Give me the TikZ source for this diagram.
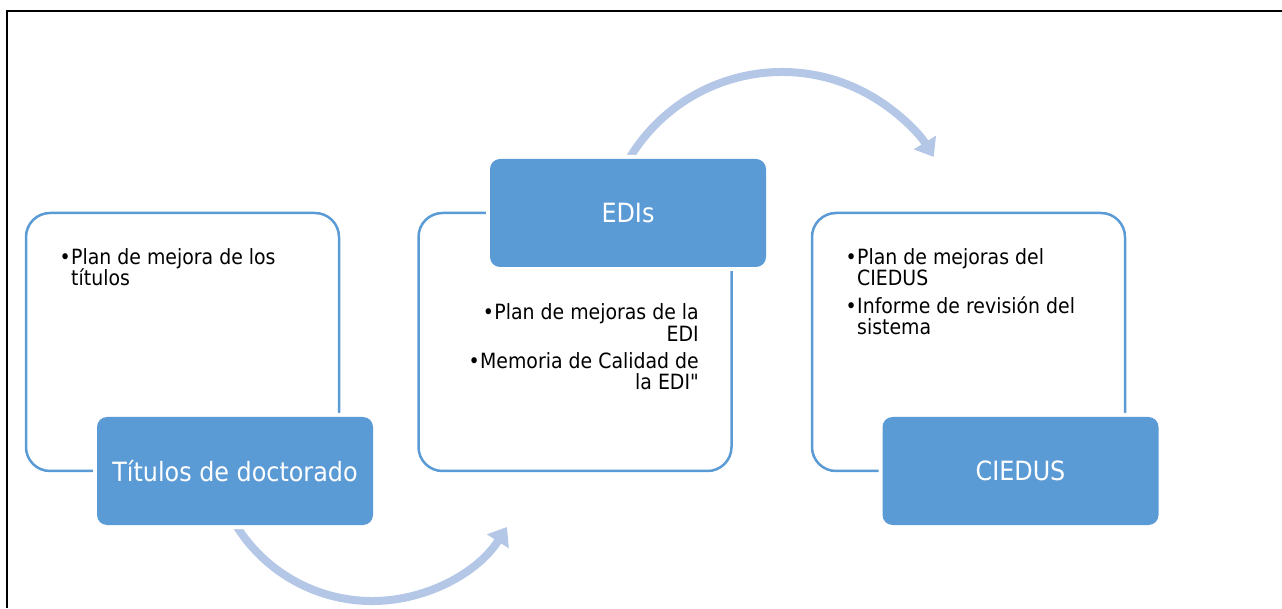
\documentclass[tikz,border=0pt]{standalone}
\usepackage{fontspec}
\setmainfont{DejaVu Sans}[FakeStretch=0.9, Ligatures=TeXOff]
\usetikzlibrary{arrows.meta}
\definecolor{boxblue}{RGB}{91,155,213}
\definecolor{arrowblue}{RGB}{180,199,231}
\newcommand\mybullet{\makebox[12pt][c]{•}}
\newcommand\leftlines[1]{\vtop{\lineskiplimit=-20pt\halign{##\hfil\cr#1\crcr}}}
\newcommand\rightlines[1]{\vtop{\lineskiplimit=-20pt\halign{\hfil##\cr#1\crcr}}}
\newcommand\pgap{\noalign{\vskip6pt}}
\begin{document}
\begin{tikzpicture}[x=1pt,y=1pt,
  outlinebox/.style={draw=boxblue, line width=2.5pt, rounded corners=24pt,
    inner sep=0pt, minimum width=313pt, minimum height=258pt},
  titlebox/.style={fill=boxblue, text=white, rounded corners=10pt, inner sep=0pt,
    minimum width=276pt, minimum height=108pt,
    font=\fontsize{26.5}{30}\selectfont,
    preaction={draw=white, line width=8pt}},
  bullettext/.style={inner sep=0pt, text=black, font=\fontsize{21}{21.3}\selectfont},
  cyclearrow/.style={draw=arrowblue, line width=8pt,
    -{Triangle[width=25pt,length=17pt]}}]
\useasboundingbox (0,0) rectangle (1282,608);
% frame
\draw[line width=2pt] (6.8,0) -- (6.8,597) -- (1282,597);
% outline boxes
\node[outlinebox] (ob1) at (182.5,266) {};
\node[outlinebox] (ob2) at (575,266) {};
\node[outlinebox] (ob3) at (968.5,266) {};
% cycle arrows
\coordinate (arcAstart) at (237.1,81);
\coordinate (arcBstart) at (630.2,451);
\draw[cyclearrow] (arcAstart) arc[start angle=212.5, end angle=327.5, radius=160];
\draw[cyclearrow] (arcBstart) arc[start angle=148.5, end angle=31.5, radius=178];
% title boxes
\node[titlebox] (tit) at (235,137) {Títulos de doctorado};
\node[titlebox] (edi) at (628,395) {EDIs};
\node[titlebox] (ced) at (1020.5,137) {CIEDUS};
% bullet texts
\node[bullettext, anchor=base west] (t1) at (59,343.5)
  {\leftlines{\mybullet Plan de mejora de los\cr\hspace{12pt}títulos}};
\node[bullettext, anchor=base east] (t2) at (699,288)
  {\rightlines{\mybullet Plan de mejoras de la\cr EDI\cr\pgap\mybullet Memoria de Calidad de\cr la EDI"}};
\node[bullettext, anchor=base west] (t3) at (845,343.5)
  {\leftlines{\mybullet Plan de mejoras del\cr\hspace{12pt}CIEDUS\cr\pgap\mybullet Informe de revisión del\cr\hspace{12pt}sistema}};
\end{tikzpicture}
\end{document}
